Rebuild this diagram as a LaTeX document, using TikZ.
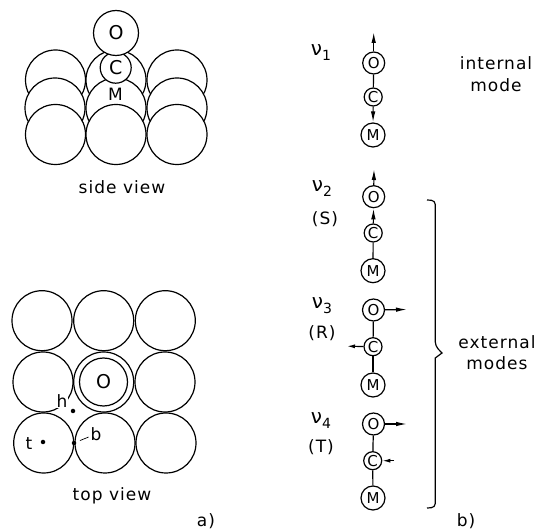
\documentclass[tikz,border=0pt]{standalone}
\usepackage{fontspec}
\setmainfont[LetterSpace=6]{DejaVu Sans}
\usetikzlibrary{arrows.meta}

\newcommand{\nusub}[1]{{\fontsize{20}{20}\selectfont ν}\raisebox{-5pt}{\fontsize{14}{14}\selectfont #1}}

\tikzset{
  atom/.style={circle, draw, fill=white, line width=1.2pt, inner sep=0pt, font=\fontsize{19}{19}\selectfont},
  metal/.style={atom, minimum size=60pt},
  oxy/.style={atom, minimum size=22pt, font=\fontsize{15}{15}\selectfont},
  carb/.style={atom, minimum size=18pt, font=\fontsize{15}{15}\selectfont},
  base/.style={atom, minimum size=24pt, font=\fontsize{15}{15}\selectfont},
  txt/.style={inner sep=0pt, align=center, font=\fontsize{17}{21.5}\selectfont},
  bond/.style={line width=1.2pt},
  mode/.style={line width=1.2pt, -{Latex[length=11pt,width=4.5pt]}},
  smallmode/.style={line width=1.2pt, -{Latex[length=8pt,width=4pt]}},
  dot/.style={circle, fill, inner sep=0pt, minimum size=4.5pt}
}

\begin{document}
\begin{tikzpicture}[x=1pt, y=-1pt]
  \useasboundingbox (0,0) rectangle (536,529);

  % side view
  \node [metal] (back1) at (55.5,80) {};
  \node [metal] (back2) at (116,80) {};
  \node [metal] (back3) at (177,80) {};
  \node [metal] (mid1) at (55,108) {};
  \node [metal] (mid2) at (116,108) {};
  \node [metal] (mid3) at (177,108) {};
  \node [metal] (front1) at (55.5,134.5) {};
  \node [metal] (front2) at (116,134.5) {};
  \node [metal] (front3) at (177,134.5) {};
  \node [atom, minimum size=31pt] (sideC) at (115.7,67.7) {C};
  \node [atom, minimum size=45pt] (sideO) at (116,33) {O};
  \node [txt] (sideM) at (115.5,94) {M};
  \node [txt] (sidelabel) at (122,187) {side view};

  % top view
  \node [metal] (top1) at (42,320.7) {};
  \node [metal] (top2) at (103.7,320.7) {};
  \node [metal] (top3) at (165.3,320.7) {};
  \node [metal] (top4) at (43,382) {};
  \node [metal] (top5) at (103.7,382) {};
  \node [metal] (top6) at (165,382) {};
  \node [metal] (top7) at (43.7,443) {};
  \node [metal] (top8) at (105,443) {};
  \node [metal] (top9) at (166,443) {};
  \node [atom, minimum size=48pt] (topO) at (103.5,382) {O};
  \node [txt, fill=white, inner xsep=1pt, inner ysep=1pt] (h) at (62,401) {h};
  \node [dot] (hdot) at (73,411) {};
  \node [txt] (t) at (29,443.5) {t};
  \node [dot] (tdot) at (43,442) {};
  \node [dot] (bdot) at (74,443) {};
  \node [txt] (b) at (96,434) {b};
  \draw [bond, line width=0.7pt, shorten >=2pt, shorten <=4pt] (bdot) -- (b);
  \node [txt] (toplabel) at (112,496) {top view};
  \node [txt] (a) at (206,521) {a)};

  % stretching mode
  \node [oxy] (o1) at (373.7,63) {O};
  \node [carb] (c1) at (373.2,97) {C};
  \node [base] (m1) at (373,135) {M};
  \coordinate (o1up) at (373.7,32);
  \draw [bond] (o1) -- (c1);
  \draw [mode] (c1) -- (m1);
  \draw [mode] (o1) -- (o1up);
  \node [txt] (nu1) at (321,53) {\nusub{1}};

  % metal-molecule stretch
  \node [oxy] (o2) at (373.7,196.7) {O};
  \node [carb] (c2) at (373.2,233) {C};
  \node [base] (m2) at (373,270.7) {M};
  \coordinate (o2up) at (374,169);
  \draw [mode] (c2) -- (o2);
  \draw [bond] (c2) -- (m2);
  \draw [mode] (o2) -- (o2up);
  \node [txt] (nu2) at (322,189) {\nusub{2}};
  \node [txt] (S) at (325,219) {(S)};

  % rotation
  \node [oxy] (o3) at (373.5,310) {O};
  \node [carb] (c3) at (373,346.7) {C};
  \node [base] (m3) at (373,385) {M};
  \coordinate (o3r) at (407,309.5);
  \coordinate (c3l) at (347,346.2);
  \draw [bond] (o3) -- (c3);
  \draw [bond] (c3) -- (m3);
  \draw [mode] (o3) -- (o3r);
  \draw [smallmode] (c3) -- (c3l);
  \node [txt] (nu3) at (322,306) {\nusub{3}};
  \node [txt] (R) at (322,333) {(R)};

  % translation
  \node [oxy] (o4) at (373.5,424) {O};
  \node [carb] (c4) at (372.7,460.7) {C};
  \node [base] (m4) at (373,498) {M};
  \coordinate (o4r) at (407,424);
  \coordinate (c4r) at (394,460.7);
  \draw [bond] (o4) -- (c4);
  \draw [bond] (c4) -- (m4);
  \draw [mode] (o4) -- (o4r);
  \draw [smallmode] (c4r) -- (c4);
  \node [txt] (nu4) at (321,421) {\nusub{4}};
  \node [txt] (T) at (321,447) {(T)};

  % brace and mode labels
  \coordinate (bracetop) at (427,200);
  \coordinate (bracetip) at (442,353);
  \coordinate (bracebot) at (427,508);
  \draw [bond, rounded corners=4pt] (bracetop) -- (435.3,200.5) -- (435.3,346) [sharp corners] -- (bracetip) -- (435.3,358) [rounded corners=4pt] -- (435.3,507.5) -- (bracebot);
  \node [txt] (internal) at (496,74) {internal\\mode};
  \node [txt] (external) at (497,352.5) {external\\modes};
  \node [txt] (bl) at (466,521) {b)};
\end{tikzpicture}
\end{document}
